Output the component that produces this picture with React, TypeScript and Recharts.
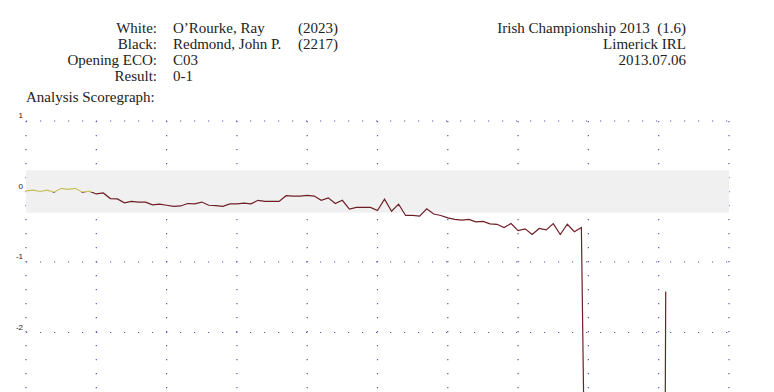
import { LineChart, Line, XAxis, YAxis, CartesianGrid, ReferenceArea } from 'recharts';

// game header
const headerLabels = ['White:', 'Black:', 'Opening ECO:', 'Result:'];
const headerValues = ['O’Rourke, Ray', 'Redmond, John P.', 'C03', '0-1'];
const headerRatings = ['(2023)', '(2217)', '', ''];
const eventLines = ['Irish Championship 2013\u00a0\u00a0(1.6)', 'Limerick IRL', '2013.07.06'];

// engine evaluation per ply (pawns), null = off the chart / not read
const scores: (number | null)[] = [
  0.01, 0.02, 0.0, 0.02, -0.01, 0.045, 0.03, 0.045, -0.01, 0.005,
  -0.035, -0.02, -0.1, -0.105, -0.16, -0.14, -0.15, -0.15, -0.19, -0.18,
  -0.195, -0.21, -0.205, -0.17, -0.175, -0.15, -0.195, -0.2, -0.21, -0.175,
  -0.175, -0.165, -0.175, -0.125, -0.14, -0.14, -0.14, -0.06, -0.065, -0.065,
  -0.055, -0.065, -0.125, -0.09, -0.17, -0.125, -0.25, -0.225, -0.225, -0.225,
  -0.27, -0.11, -0.28, -0.18, -0.34, -0.34, -0.35, -0.245, -0.32, -0.34,
  -0.375, -0.395, -0.405, -0.395, -0.43, -0.425, -0.46, -0.465, -0.51, -0.455,
  -0.555, -0.53, -0.61, -0.525, -0.545, -0.455, -0.61, -0.465, -0.57, -0.51,
  -8, null, null, null, null, null, null, null, null, null,
  -25, -1.42,
];

const plyTicks = [0, 10, 20, 30, 40, 50, 60, 70, 80, 90, 100];
const scoreTicks = [1, 0, -1, -2, -3];
const drawBand = [-0.3, 0.3];

const data = scores.map((score, ply) => ({ ply, score }));

const known = scores.filter((s): s is number => s !== null);
const maxScore = Math.max(...known);
const minScore = Math.min(...known);
const zeroOffset = maxScore / (maxScore - minScore);

const ScoreTick = ({ y, payload }: any) => {
  if (payload.value < -2) return null;
  return (
    <text x={23} y={y - 3} textAnchor="end" fontSize={8} fontFamily="Liberation Sans" fill="#222">
      {payload.value}
    </text>
  );
};

export default function App() {
  return (
    <div style={{ position: 'absolute', left: 0, top: 0, width: 774, height: 392, overflow: 'hidden', background: '#fff' }}>
      <LineChart
        width={774}
        height={410}
        data={data}
        margin={{ top: 121, right: 45, bottom: 7, left: 0 }}
        style={{ position: 'absolute', left: 0, top: 0 }}
      >
        <defs>
          <linearGradient id="scoreGrad" x1="0" y1="0" x2="0" y2="1">
            <stop offset={0} stopColor="#c8be5a" />
            <stop offset={zeroOffset} stopColor="#c8be5a" />
            <stop offset={zeroOffset} stopColor="#6e1f26" />
            <stop offset={1} stopColor="#6e1f26" />
          </linearGradient>
        </defs>
        <ReferenceArea y1={drawBand[0]} y2={drawBand[1]} fill="#f0f0f0" fillOpacity={1} stroke="none" />
        <CartesianGrid stroke="#5858b4" strokeDasharray="1.2 12.8" strokeWidth={1.2} />
        <XAxis type="number" dataKey="ply" domain={[0, 100]} ticks={plyTicks} hide />
        <YAxis
          type="number"
          domain={[-3, 1]}
          ticks={scoreTicks}
          allowDataOverflow
          width={26}
          axisLine={false}
          tickLine={false}
          tick={<ScoreTick />}
        />
        <Line
          type="linear"
          dataKey="score"
          stroke="url(#scoreGrad)"
          strokeWidth={1.2}
          dot={false}
          activeDot={false}
          connectNulls={false}
          isAnimationActive={false}
        />
      </LineChart>
      <svg width={774} height={110} style={{ position: 'absolute', left: 0, top: 0 }} fontFamily="Liberation Serif" fontSize={15} fill="#222">
        {headerLabels.map((t, i) => (
          <text key={'l' + i} x={157} y={33 + i * 16} textAnchor="end">{t}</text>
        ))}
        {headerValues.map((t, i) => (
          <text key={'v' + i} x={173} y={33 + i * 16}>{t}</text>
        ))}
        {headerRatings.map((t, i) => (
          <text key={'r' + i} x={298} y={33 + i * 16}>{t}</text>
        ))}
        {eventLines.map((t, i) => (
          <text key={'e' + i} x={686} y={33 + i * 16} textAnchor="end">{t}</text>
        ))}
        <text x={26} y={102}>Analysis Scoregraph:</text>
      </svg>
    </div>
  );
}
